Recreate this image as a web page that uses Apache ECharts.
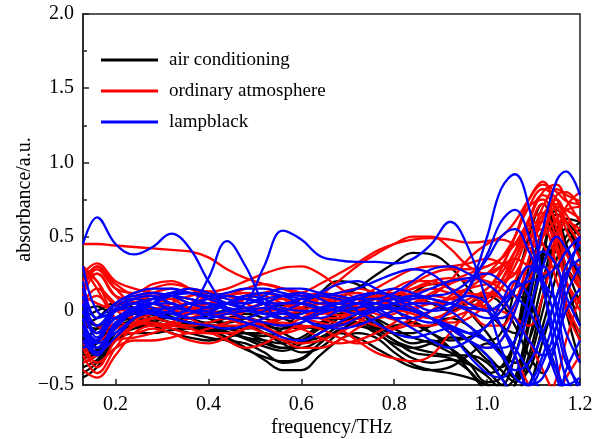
<!DOCTYPE html>
<html>
<head>
    <meta charset="UTF-8">
    <title>absorbance</title>
    <script src="https://cdn.jsdelivr.net/npm/echarts@6/dist/echarts.min.js"></script>
</head>
<body style="margin:0">
<div id="chart" style="width:600px; height:439px;"></div>
<script>
    // frequency points (THz)
    var freq = [0.13, 0.16, 0.20, 0.24, 0.28, 0.32, 0.36, 0.40, 0.44, 0.48, 0.52, 0.56, 0.60, 0.64, 0.68,
        0.72, 0.76, 0.80, 0.84, 0.88, 0.92, 0.96, 1.00, 1.03, 1.06, 1.09, 1.12, 1.15, 1.17, 1.20];

    // air conditioning curves
    var airConditioning = [
        [-0.42, -0.35, -0.2, -0.15, -0.15, -0.13, -0.12, -0.13, -0.18, -0.25, -0.33, -0.4, -0.4, -0.3, -0.2, -0.15, -0.18, -0.28, -0.36, -0.4, -0.42, -0.45, -0.5, -0.58, -0.5, -0.2, 0.2, 0.45, 0.4, 0.2],
        [-0.35, -0.3, -0.18, -0.12, -0.1, -0.1, -0.12, -0.14, -0.2, -0.26, -0.31, -0.34, -0.32, -0.22, -0.13, -0.1, -0.14, -0.24, -0.32, -0.35, -0.33, -0.36, -0.44, -0.52, -0.45, -0.05, 0.4, 0.65, 0.6, 0.5],
        [-0.3, -0.26, -0.1, -0.05, -0.07, -0.1, -0.08, -0.1, -0.14, -0.19, -0.24, -0.27, -0.22, -0.1, 0.0, 0.02, -0.06, -0.16, -0.22, -0.2, -0.25, -0.35, -0.48, -0.45, -0.2, 0.3, 0.6, 0.5, 0.3, 0.05],
        [-0.2, -0.12, 0.0, 0.02, 0.0, -0.04, -0.08, -0.1, -0.12, -0.15, -0.17, -0.12, 0.0, 0.12, 0.2, 0.18, 0.1, 0.04, 0.0, -0.05, -0.1, -0.2, -0.33, -0.38, -0.2, 0.2, 0.55, 0.6, 0.45, 0.2],
        [-0.1, -0.05, 0.04, 0.05, 0.0, -0.05, -0.05, -0.02, 0.0, -0.05, -0.1, -0.12, -0.08, 0.0, 0.08, 0.15, 0.24, 0.32, 0.39, 0.38, 0.3, 0.15, 0.0, -0.1, -0.15, 0.0, 0.3, 0.55, 0.62, 0.6],
        [0.0, 0.03, -0.05, -0.1, -0.08, -0.02, 0.0, -0.05, -0.1, -0.12, -0.1, -0.05, 0.0, 0.05, 0.05, 0.0, -0.1, -0.15, -0.15, -0.1, -0.05, -0.1, -0.2, -0.15, 0.15, 0.5, 0.72, 0.5, 0.2, -0.1],
        [-0.25, -0.3, -0.15, -0.06, -0.02, -0.05, -0.1, -0.12, -0.12, -0.15, -0.2, -0.25, -0.25, -0.2, -0.15, -0.18, -0.25, -0.32, -0.38, -0.4, -0.38, -0.3, -0.22, -0.3, -0.45, -0.4, -0.1, 0.25, 0.45, 0.55],
        [-0.15, -0.2, -0.12, -0.05, 0.0, 0.02, 0.0, -0.05, -0.08, -0.05, 0.0, 0.04, 0.05, 0.0, -0.05, -0.1, -0.12, -0.1, -0.08, -0.15, -0.25, -0.4, -0.55, -0.62, -0.5, -0.1, 0.35, 0.68, 0.6, 0.35],
        [-0.45, -0.38, -0.2, -0.1, -0.05, -0.05, -0.08, -0.12, -0.15, -0.18, -0.22, -0.25, -0.2, -0.12, -0.05, -0.05, -0.12, -0.2, -0.25, -0.28, -0.3, -0.3, -0.35, -0.45, -0.55, -0.5, -0.2, 0.1, 0.25, 0.35],
        [-0.05, -0.1, 0.0, 0.05, 0.08, 0.05, 0.0, -0.02, 0.0, 0.02, 0.0, -0.05, -0.1, -0.12, -0.1, -0.05, 0.0, 0.05, 0.12, 0.18, 0.15, 0.0, -0.15, -0.28, -0.35, -0.2, 0.1, 0.4, 0.3, 0.15],
        [-0.38, -0.33, -0.18, -0.1, -0.1, -0.12, -0.15, -0.18, -0.2, -0.22, -0.28, -0.35, -0.33, -0.22, -0.1, -0.08, -0.12, -0.2, -0.28, -0.3, -0.32, -0.4, -0.5, -0.5, -0.3, 0.05, 0.38, 0.3, 0.0, -0.35],
        [-0.1, -0.12, -0.05, 0.0, -0.02, -0.05, -0.08, -0.1, -0.08, -0.05, -0.08, -0.15, -0.2, -0.18, -0.1, -0.02, 0.05, 0.1, 0.1, 0.05, 0.0, 0.05, 0.1, 0.05, -0.1, -0.3, -0.42, -0.2, 0.0, 0.1],
        [-0.28, -0.22, -0.08, -0.02, -0.05, -0.08, -0.1, -0.12, -0.15, -0.18, -0.2, -0.22, -0.18, -0.1, -0.05, -0.08, -0.15, -0.22, -0.25, -0.22, -0.18, -0.2, -0.3, -0.4, -0.48, -0.3, 0.1, 0.5, 0.55, 0.4],
        [-0.18, -0.25, -0.1, -0.02, 0.02, 0.0, -0.05, -0.08, -0.05, -0.02, -0.05, -0.1, -0.12, -0.08, -0.02, 0.0, -0.05, -0.12, -0.18, -0.22, -0.28, -0.35, -0.42, -0.38, -0.2, 0.15, 0.45, 0.3, 0.05, -0.2],
        [-0.32, -0.28, -0.12, -0.08, -0.1, -0.15, -0.18, -0.2, -0.18, -0.15, -0.15, -0.2, -0.22, -0.15, -0.05, 0.05, 0.1, 0.08, 0.02, -0.05, -0.15, -0.28, -0.4, -0.5, -0.55, -0.35, 0.0, 0.35, 0.5, 0.6],
        [-0.05, 0.0, 0.05, 0.02, -0.03, -0.08, -0.1, -0.08, -0.05, -0.08, -0.15, -0.22, -0.28, -0.25, -0.15, -0.05, 0.02, 0.0, -0.08, -0.15, -0.2, -0.18, -0.1, 0.0, 0.1, 0.05, -0.15, -0.4, -0.55, -0.6]
    ];

    // ordinary atmosphere curves
    var ordinaryAtmosphere = [
        [0.45, 0.45, 0.44, 0.43, 0.42, 0.41, 0.4, 0.36, 0.28, 0.22, 0.18, 0.15, 0.12, 0.1, 0.07, 0.03, -0.02, -0.06, -0.1, -0.1, -0.05, 0.0, 0.08, 0.2, 0.4, 0.62, 0.78, 0.7, 0.55, 0.35],
        [0.2, 0.3, 0.15, 0.06, 0.08, 0.12, 0.15, 0.13, 0.15, 0.2, 0.25, 0.29, 0.3, 0.25, 0.16, 0.08, 0.05, 0.08, 0.12, 0.15, 0.12, 0.1, 0.15, 0.28, 0.5, 0.7, 0.82, 0.75, 0.6, 0.45],
        [0.1, 0.25, 0.1, 0.0, -0.02, 0.0, 0.05, 0.08, 0.05, 0.02, 0.05, 0.1, 0.12, 0.18, 0.25, 0.32, 0.4, 0.45, 0.48, 0.49, 0.48, 0.46, 0.47, 0.5, 0.6, 0.75, 0.85, 0.8, 0.74, 0.72],
        [0.3, 0.2, 0.0, 0.05, 0.1, 0.08, 0.02, 0.0, 0.05, 0.08, 0.05, 0.0, 0.02, 0.1, 0.2, 0.3, 0.38, 0.45, 0.5, 0.5, 0.42, 0.3, 0.25, 0.3, 0.5, 0.75, 0.87, 0.65, 0.4, 0.2],
        [-0.4, -0.45, -0.3, -0.15, -0.1, -0.12, -0.15, -0.12, -0.1, -0.1, -0.12, -0.15, -0.12, -0.1, -0.12, -0.2, -0.28, -0.32, -0.34, -0.3, -0.15, 0.0, 0.1, 0.2, 0.35, 0.55, 0.72, 0.6, 0.4, 0.15],
        [-0.3, -0.42, -0.25, -0.1, -0.05, -0.08, -0.1, -0.08, -0.05, -0.05, -0.08, -0.1, -0.05, 0.0, 0.0, -0.05, -0.1, -0.12, -0.08, 0.0, 0.1, 0.15, 0.18, 0.2, 0.25, 0.45, 0.7, 0.82, 0.78, 0.74],
        [0.15, 0.28, 0.15, 0.12, 0.18, 0.2, 0.15, 0.08, 0.02, 0.0, 0.02, 0.05, 0.08, 0.1, 0.08, 0.05, 0.05, 0.1, 0.18, 0.25, 0.28, 0.28, 0.3, 0.35, 0.45, 0.6, 0.66, 0.5, 0.38, 0.3],
        [0.0, -0.1, -0.15, -0.15, -0.12, -0.15, -0.2, -0.22, -0.18, -0.12, -0.08, -0.05, -0.05, -0.08, -0.1, -0.05, 0.02, 0.1, 0.15, 0.18, 0.2, 0.25, 0.3, 0.35, 0.45, 0.58, 0.6, 0.4, 0.2, 0.05],
        [-0.2, -0.35, -0.25, -0.2, -0.2, -0.18, -0.15, -0.15, -0.2, -0.25, -0.22, -0.15, -0.1, -0.12, -0.18, -0.22, -0.2, -0.12, -0.05, 0.0, 0.05, 0.0, -0.1, -0.1, 0.05, 0.35, 0.62, 0.75, 0.65, 0.5],
        [0.1, 0.05, 0.0, -0.05, -0.02, 0.05, 0.1, 0.12, 0.1, 0.05, 0.0, 0.02, 0.08, 0.12, 0.1, 0.05, 0.08, 0.15, 0.2, 0.2, 0.15, 0.12, 0.1, 0.15, 0.3, 0.5, 0.55, 0.3, 0.05, -0.15],
        [-0.15, -0.25, -0.1, 0.0, 0.05, 0.02, -0.05, -0.1, -0.08, 0.0, 0.05, 0.05, 0.0, -0.05, -0.05, 0.0, 0.05, 0.05, 0.0, -0.05, 0.0, 0.08, 0.12, 0.08, -0.05, -0.2, -0.4, -0.55, -0.45, -0.3],
        [0.25, 0.32, 0.2, 0.15, 0.12, 0.1, 0.08, 0.05, 0.05, 0.08, 0.12, 0.15, 0.12, 0.08, 0.05, 0.08, 0.15, 0.22, 0.28, 0.3, 0.3, 0.32, 0.35, 0.32, 0.25, 0.3, 0.5, 0.7, 0.68, 0.62],
        [-0.35, -0.3, -0.2, -0.18, -0.15, -0.1, -0.05, -0.02, -0.02, -0.05, -0.1, -0.18, -0.22, -0.2, -0.15, -0.08, 0.0, 0.02, 0.0, -0.05, -0.12, -0.2, -0.25, -0.2, 0.0, 0.35, 0.6, 0.45, 0.2, 0.0],
        [0.05, 0.15, 0.05, -0.05, -0.1, -0.08, 0.0, 0.05, 0.02, -0.05, -0.08, -0.05, 0.02, 0.08, 0.12, 0.15, 0.12, 0.05, 0.05, 0.1, 0.2, 0.35, 0.45, 0.48, 0.45, 0.42, 0.5, 0.62, 0.68, 0.7],
        [-0.05, -0.15, -0.08, 0.0, 0.02, 0.0, -0.02, 0.0, 0.05, 0.1, 0.12, 0.08, 0.02, -0.02, 0.0, 0.05, 0.1, 0.08, 0.02, -0.05, -0.08, -0.05, 0.05, 0.15, 0.35, 0.6, 0.8, 0.85, 0.75, 0.6],
        [0.3, 0.15, -0.05, -0.1, -0.05, 0.02, 0.05, 0.02, -0.05, -0.1, -0.15, -0.2, -0.25, -0.25, -0.2, -0.12, -0.05, 0.0, 0.02, 0.05, 0.08, 0.1, 0.0, -0.1, -0.3, -0.5, -0.62, -0.45, -0.2, 0.1],
        [0.2, 0.25, 0.1, 0.08, 0.12, 0.15, 0.12, 0.08, 0.1, 0.15, 0.18, 0.15, 0.1, 0.05, 0.02, 0.05, 0.1, 0.12, 0.1, 0.05, 0.08, 0.15, 0.25, 0.35, 0.5, 0.7, 0.75, 0.55, 0.3, 0.15],
        [-0.25, -0.38, -0.2, -0.1, -0.08, -0.1, -0.12, -0.15, -0.15, -0.12, -0.08, -0.08, -0.12, -0.18, -0.22, -0.2, -0.15, -0.08, 0.0, 0.05, 0.05, 0.02, 0.0, 0.05, 0.2, 0.45, 0.65, 0.72, 0.6, 0.45],
        [0.05, 0.1, 0.0, 0.02, 0.05, 0.08, 0.05, 0.0, -0.02, 0.0, 0.05, 0.08, 0.05, 0.0, -0.03, 0.0, 0.05, 0.1, 0.15, 0.2, 0.22, 0.2, 0.25, 0.3, 0.35, 0.3, 0.25, 0.45, 0.6, 0.55],
        [0.28, 0.2, 0.05, 0.08, 0.15, 0.18, 0.15, 0.1, 0.05, 0.02, 0.0, -0.02, 0.0, 0.05, 0.1, 0.12, 0.08, 0.02, -0.02, -0.05, -0.02, 0.05, 0.15, 0.25, 0.4, 0.55, 0.45, 0.2, 0.0, -0.2],
        [-0.1, -0.2, -0.12, -0.08, -0.05, 0.0, 0.02, 0.0, -0.05, -0.08, -0.05, 0.0, 0.05, 0.08, 0.05, 0.0, -0.05, -0.02, 0.05, 0.12, 0.18, 0.22, 0.2, 0.15, 0.1, 0.2, 0.5, 0.78, 0.8, 0.7],
        [0.12, 0.3, 0.18, 0.1, 0.05, 0.02, 0.02, 0.05, 0.1, 0.12, 0.1, 0.05, 0.0, -0.05, -0.08, -0.05, 0.0, 0.05, 0.08, 0.1, 0.08, 0.05, 0.02, 0.0, -0.05, -0.1, 0.1, 0.5, 0.7, 0.8]
    ];

    // lampblack curves
    var lampblack = [
        [0.45, 0.63, 0.45, 0.38, 0.43, 0.52, 0.42, 0.2, 0.02, -0.05, 0.0, 0.05, 0.05, 0.02, 0.0, 0.02, 0.05, 0.08, 0.1, 0.08, 0.05, 0.02, 0.0, -0.1, -0.25, -0.4, -0.55, -0.6, -0.4, -0.2],
        [-0.1, -0.2, 0.0, 0.05, 0.02, -0.02, 0.02, 0.22, 0.47, 0.3, 0.05, -0.05, -0.05, 0.0, 0.05, 0.08, 0.05, 0.02, 0.0, -0.05, -0.1, -0.15, -0.1, 0.05, 0.2, 0.1, -0.15, -0.4, -0.5, -0.45],
        [-0.05, -0.25, -0.1, 0.0, 0.05, 0.05, 0.0, -0.02, 0.0, 0.05, 0.3, 0.54, 0.48, 0.37, 0.34, 0.33, 0.33, 0.32, 0.35, 0.45, 0.6, 0.42, 0.05, -0.25, -0.45, -0.5, -0.35, -0.1, 0.2, 0.5],
        [0.0, -0.15, 0.05, 0.1, 0.12, 0.1, 0.05, 0.02, 0.05, 0.1, 0.12, 0.1, 0.05, 0.02, 0.05, 0.1, 0.12, 0.1, 0.05, 0.0, 0.02, 0.15, 0.5, 0.82, 0.92, 0.7, 0.2, -0.35, -0.6, -0.7],
        [-0.15, -0.28, -0.12, 0.0, 0.05, 0.0, -0.05, -0.02, 0.05, 0.08, 0.05, 0.0, -0.05, -0.05, 0.0, 0.05, 0.05, 0.0, -0.05, -0.08, 0.0, 0.15, 0.38, 0.6, 0.68, 0.5, 0.15, -0.2, -0.45, -0.6],
        [0.05, -0.1, 0.0, 0.08, 0.1, 0.05, 0.0, 0.0, 0.05, 0.1, 0.08, 0.02, 0.0, 0.0, 0.02, 0.05, 0.08, 0.05, 0.0, -0.05, -0.1, -0.15, -0.2, -0.25, -0.2, 0.1, 0.55, 0.88, 0.94, 0.78],
        [0.2, -0.05, 0.05, 0.12, 0.15, 0.15, 0.12, 0.1, 0.12, 0.15, 0.15, 0.12, 0.1, 0.1, 0.12, 0.15, 0.2, 0.25, 0.28, 0.25, 0.15, 0.05, 0.0, 0.05, 0.15, 0.2, 0.22, 0.3, 0.4, 0.5],
        [-0.2, -0.25, -0.08, -0.02, 0.0, -0.02, -0.05, -0.05, -0.02, 0.0, 0.02, 0.0, -0.05, -0.1, -0.12, -0.1, -0.05, 0.0, 0.05, 0.05, 0.0, -0.1, -0.2, -0.3, -0.4, -0.35, -0.15, 0.1, 0.3, 0.45],
        [0.0, -0.18, 0.02, 0.08, 0.05, 0.02, 0.05, 0.08, 0.1, 0.08, 0.05, 0.05, 0.08, 0.1, 0.08, 0.05, 0.0, -0.05, -0.05, 0.0, 0.05, 0.1, 0.05, -0.1, -0.3, -0.5, -0.45, -0.2, 0.0, 0.15],
        [-0.05, -0.22, -0.15, -0.05, 0.0, 0.02, 0.0, -0.03, -0.05, -0.08, -0.12, -0.18, -0.2, -0.15, -0.08, -0.02, 0.02, 0.05, 0.08, 0.1, 0.12, 0.2, 0.35, 0.5, 0.55, 0.4, 0.2, 0.05, -0.15, -0.35],
        [0.1, -0.1, 0.0, 0.02, -0.02, -0.05, -0.02, 0.03, 0.05, 0.02, -0.02, -0.05, -0.02, 0.02, 0.05, 0.0, -0.08, -0.15, -0.18, -0.15, -0.12, -0.2, -0.3, -0.45, -0.55, -0.5, -0.3, 0.0, 0.25, 0.35],
        [0.3, 0.0, -0.05, 0.0, 0.05, 0.1, 0.12, 0.1, 0.05, 0.02, 0.05, 0.1, 0.12, 0.08, 0.02, -0.02, 0.0, 0.05, 0.1, 0.15, 0.2, 0.22, 0.25, 0.2, 0.1, 0.0, -0.2, -0.45, -0.6, -0.55],
        [-0.1, -0.28, -0.18, -0.05, 0.05, 0.12, 0.12, 0.08, 0.05, 0.05, 0.08, 0.1, 0.08, 0.05, 0.05, 0.08, 0.12, 0.15, 0.12, 0.08, 0.05, 0.0, -0.05, -0.05, 0.05, 0.25, 0.4, 0.3, 0.1, -0.1],
        [0.15, -0.05, 0.0, 0.05, 0.08, 0.1, 0.08, 0.05, 0.02, 0.0, -0.02, 0.0, 0.05, 0.12, 0.18, 0.2, 0.15, 0.08, 0.02, -0.05, -0.15, -0.3, -0.42, -0.45, -0.3, 0.0, 0.3, 0.5, 0.42, 0.25],
        [-0.2, -0.3, -0.1, 0.02, 0.0, -0.05, -0.08, -0.1, -0.12, -0.1, -0.05, -0.02, -0.05, -0.1, -0.1, -0.05, 0.0, 0.02, 0.0, -0.05, -0.12, -0.2, -0.25, -0.2, 0.0, 0.25, 0.3, 0.0, -0.3, -0.55],
        [0.05, -0.15, -0.05, 0.02, 0.08, 0.12, 0.15, 0.12, 0.08, 0.05, 0.1, 0.15, 0.15, 0.12, 0.1, 0.08, 0.08, 0.12, 0.2, 0.28, 0.3, 0.25, 0.18, 0.1, -0.05, -0.2, -0.3, -0.2, 0.1, 0.3],
        [-0.25, -0.2, -0.05, 0.0, -0.02, 0.0, 0.05, 0.05, 0.0, -0.05, -0.08, -0.1, -0.08, -0.02, 0.02, 0.05, 0.02, -0.05, -0.12, -0.2, -0.25, -0.2, -0.1, 0.0, 0.15, 0.3, 0.2, -0.1, -0.35, -0.5]
    ];

    var xMajor = [0.2, 0.4, 0.6, 0.8, 1.0, 1.2];
    var xMinor = [0.3, 0.5, 0.7, 0.9, 1.1];

    var fontFamily = 'Liberation Serif';
    var groups = [
        {name: 'air conditioning', color: '#000000', curves: airConditioning},
        {name: 'ordinary atmosphere', color: '#ff0000', curves: ordinaryAtmosphere},
        {name: 'lampblack', color: '#0000ff', curves: lampblack}
    ];

    var series = [];
    groups.forEach(function (g) {
        g.curves.forEach(function (c) {
            series.push({
                name: g.name,
                type: 'line',
                xAxisIndex: 0,
                smooth: 0.4,
                symbol: 'none',
                color: g.color,
                lineStyle: {color: g.color, width: 2.3},
                data: freq.map(function (f, i) { return [f, c[i]]; })
            });
        });
    });

    var chart = echarts.init(document.getElementById('chart'), null, {renderer: 'canvas'});
    var option = {
        animation: false,
        backgroundColor: '#ffffff',
        textStyle: {fontFamily: fontFamily},
        grid: {
            left: 83, right: 20, top: 14, bottom: 54,
            outerBoundsMode: 'none',
            show: true, borderColor: '#222', borderWidth: 1.5
        },
        legend: {
            data: groups.map(function (g) { return g.name; }),
            orient: 'vertical',
            left: 101,
            top: 50,
            padding: 0,
            icon: 'rect',
            itemWidth: 57,
            itemHeight: 3,
            itemGap: 11,
            textStyle: {fontFamily: fontFamily, fontSize: 19, color: '#000', lineHeight: 20, padding: [0, 0, 0, 6]}
        },
        xAxis: [{
            type: 'value',
            min: 0.13,
            max: 1.2,
            name: 'frequency/THz',
            nameLocation: 'middle',
            nameGap: 33,
            nameMoveOverlap: false,
            nameTextStyle: {fontFamily: fontFamily, fontSize: 20, color: '#000'},
            axisLine: {show: true, onZero: false, lineStyle: {color: '#222', width: 1.5}},
            axisTick: {inside: true, length: 6, customValues: xMajor, lineStyle: {color: '#222', width: 1.5}},
            axisLabel: {customValues: xMajor, fontFamily: fontFamily, fontSize: 20, color: '#000', margin: 10,
                formatter: function (v) { return v.toFixed(1); }},
            splitLine: {show: false}
        }, {
            type: 'value',
            min: 0.13,
            max: 1.2,
            position: 'bottom',
            axisLine: {show: false},
            axisTick: {inside: true, length: 4, customValues: xMinor, lineStyle: {color: '#222', width: 1.5}},
            axisLabel: {show: false},
            splitLine: {show: false}
        }],
        yAxis: {
            type: 'value',
            min: -0.5,
            max: 2.0,
            interval: 0.5,
            name: 'absorbance/a.u.',
            nameLocation: 'middle',
            nameGap: 48,
            nameMoveOverlap: false,
            nameTextStyle: {fontFamily: fontFamily, fontSize: 20, color: '#000'},
            axisLine: {show: true, onZero: false, lineStyle: {color: '#222', width: 1.5}},
            axisTick: {inside: true, length: 6, lineStyle: {color: '#222', width: 1.5}},
            minorTick: {show: true, splitNumber: 2, length: 4, lineStyle: {color: '#222', width: 1.5}},
            axisLabel: {fontFamily: fontFamily, fontSize: 20, color: '#000', margin: 9,
                formatter: function (v) {
                    if (Math.abs(v) < 1e-9) return '0';
                    return v < 0 ? '\u2212' + (-v).toFixed(1) : v.toFixed(1);
                }},
            splitLine: {show: false}
        },
        series: series
    };
    chart.setOption(option);
</script>
</body>
</html>
